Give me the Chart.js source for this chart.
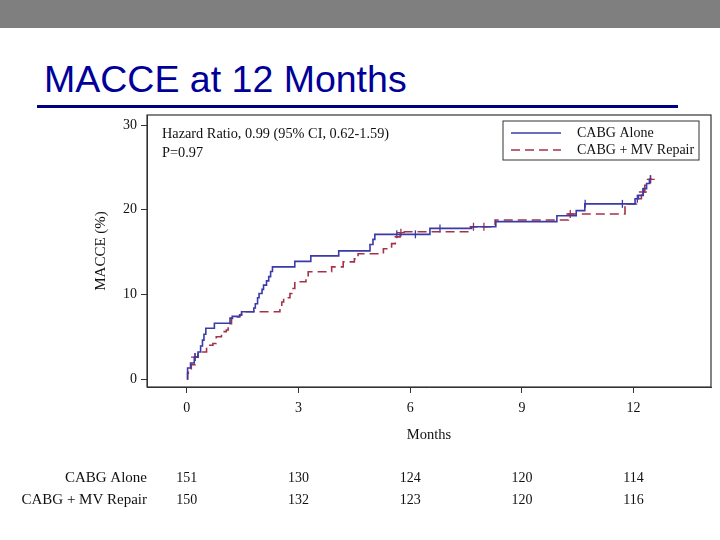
<!DOCTYPE html>
<html>
<head>
<meta charset="utf-8">
<script src="https://cdn.jsdelivr.net/npm/chart.js@4/dist/chart.umd.min.js"></script>
<style>
  body { margin: 0; width: 720px; height: 540px; background: #fff; position: relative; overflow: hidden; }
  #topBar { position: absolute; left: 0; top: 0; width: 720px; height: 28px; background: #7f7f7f; }
  #slideTitle { position: absolute; left: 44px; top: 58px; font-family: "Liberation Sans", Arial, sans-serif; font-size: 37.5px; color: #000099; white-space: nowrap; }
  #titleRule { position: absolute; left: 37px; top: 105px; width: 641px; height: 3px; background: #000080; }
  #chartBox { position: absolute; left: 0; top: 0; width: 720px; height: 540px; }
</style>
</head>
<body>
<div id="topBar"></div>
<div id="slideTitle">MACCE at 12 Months</div>
<div id="titleRule"></div>
<div id="chartBox"><canvas id="kmChart" width="720" height="540"></canvas></div>
<script>
// du lieu doc tu hinh (thang, %)
const groupNames = ["CABG Alone", "CABG + MV Repair"];
const aloneMonths = [0, 0.02, 0.1, 0.2, 0.3, 0.37, 0.42, 0.46, 0.51, 0.74, 1.16, 1.22, 1.42, 1.47, 1.8, 1.84, 1.9, 1.94, 2.02, 2.06, 2.14, 2.2, 2.25, 2.3, 2.9, 3.33, 4.08, 4.92, 5.0, 5.05, 6.53, 7.65, 8.3, 9.94, 10.46, 10.69, 12.04, 12.13, 12.26, 12.35, 12.43, 12.45];
const aloneValues = [0, 1.3, 1.9, 2.6, 3.2, 3.9, 4.6, 5.3, 6.0, 6.6, 7.2, 7.4, 7.6, 7.95, 8.4, 8.9, 9.6, 10.1, 10.6, 11.1, 11.6, 12.1, 12.7, 13.25, 13.9, 14.55, 15.15, 15.9, 16.5, 17.1, 17.8, 18.0, 18.6, 19.3, 19.9, 20.7, 21.3, 21.7, 22.5, 23.1, 23.6, 23.6];
const repairMonths = [0, 0.02, 0.04, 0.12, 0.22, 0.3, 0.53, 0.7, 0.79, 0.93, 1.06, 1.11, 1.2, 1.3, 1.42, 1.47, 2.5, 2.55, 2.6, 2.77, 2.82, 2.9, 3.2, 3.26, 3.89, 4.2, 4.5, 4.6, 5.28, 5.5, 5.6, 5.73, 5.8, 7.63, 8.28, 10.25, 11.77, 12.08, 12.21, 12.3, 12.43, 12.5];
const repairValues = [0, 0.7, 1.1, 1.7, 2.6, 3.2, 4.0, 4.2, 5.0, 5.6, 5.8, 6.55, 7.15, 7.35, 7.55, 7.95, 8.5, 9.1, 9.6, 10.1, 10.7, 11.5, 12.1, 12.67, 13.25, 13.85, 14.2, 14.8, 15.4, 16.0, 16.8, 17.3, 17.4, 18.0, 18.8, 19.5, 20.7, 21.3, 22.1, 22.9, 23.6, 23.6];
// diem kiem duyet (+)
const aloneCensorMonths = [0.22, 5.64, 6.14, 6.8, 10.7, 11.7, 12.1, 12.45];
const aloneCensorValues = [2.6, 17.1, 17.1, 17.8, 20.7, 20.7, 21.3, 23.6];
const repairCensorMonths = [0.22, 5.75, 7.7, 7.98, 10.3, 12.25, 12.46];
const repairCensorValues = [2.6, 17.3, 18.0, 18.0, 19.5, 22.1, 23.6];
const xTickValues = [0, 3, 6, 9, 12];
const yTickValues = [0, 10, 20, 30];
const atRiskAlone = [151, 130, 124, 120, 114];
const atRiskRepair = [150, 132, 123, 120, 116];
const hazardText = "Hazard Ratio, 0.99 (95% CI, 0.62-1.59)";
const pText = "P=0.97";

const blueColor = "#3a3aa8";
const redColor = "#a33348";
const serif = "'Liberation Serif', 'DejaVu Serif', serif";

const toPoints = (xs, ys) => xs.map((x, i) => ({ x: x, y: ys[i] }));

// ve khung, chu thich, bang so nguoi co nguy co
const extrasPlugin = {
    id: 'extras',
    afterDraw(chart) {
        const ctx = chart.ctx;
        const area = chart.chartArea;
        const xScale = chart.scales.x;
        ctx.save();
        ctx.strokeStyle = "#333";
        ctx.lineWidth = 1.2;
        ctx.strokeRect(area.left, area.top, area.right - area.left, area.bottom - area.top);

        // chu thich HR
        ctx.fillStyle = "#111";
        ctx.font = "14.3px " + serif;
        ctx.textAlign = "left";
        ctx.textBaseline = "alphabetic";
        ctx.fillText(hazardText, 162, 138);
        ctx.fillText(pText, 162, 157);

        // legend
        const lx = 503, ly = 121, lw = 196, lh = 39;
        ctx.lineWidth = 1;
        ctx.strokeStyle = "#333";
        ctx.strokeRect(lx, ly, lw, lh);
        const ds = chart.data.datasets;
        [0, 1].forEach(i => {
            const yy = ly + 12 + i * 17;
            ctx.beginPath();
            ctx.strokeStyle = ds[i].borderColor;
            ctx.lineWidth = 1.3;
            ctx.setLineDash(ds[i].borderDash || []);
            ctx.moveTo(lx + 8, yy);
            ctx.lineTo(lx + 58, yy);
            ctx.stroke();
            ctx.setLineDash([]);
            ctx.fillStyle = "#111";
            ctx.font = "14px " + serif;
            ctx.textBaseline = "middle";
            ctx.fillText(ds[i].label, lx + 74, yy);
        });

        // bang so luong
        ctx.font = "15px " + serif;
        ctx.fillStyle = "#111";
        ctx.textBaseline = "middle";
        ctx.textAlign = "right";
        ctx.fillText(groupNames[0], 147, 478);
        ctx.fillText(groupNames[1], 147, 500);
        ctx.textAlign = "center";
        ctx.font = "14px " + serif;
        xTickValues.forEach((m, i) => {
            const px = xScale.getPixelForValue(m);
            ctx.fillText(atRiskAlone[i], px, 478);
            ctx.fillText(atRiskRepair[i], px, 500);
        });
        ctx.restore();
    }
};

const ctx1 = document.getElementById('kmChart').getContext('2d');
const kmChart = new Chart(ctx1, {
    type: 'line',
    data: {
        datasets: [
            {
                label: groupNames[0],
                data: toPoints(aloneMonths, aloneValues),
                borderColor: blueColor,
                borderWidth: 1.6,
                stepped: true,
                pointRadius: 0,
                fill: false
            },
            {
                label: groupNames[1],
                data: toPoints(repairMonths, repairValues),
                borderColor: redColor,
                borderWidth: 1.6,
                borderDash: [9, 5],
                stepped: true,
                pointRadius: 0,
                fill: false
            },
            {
                type: 'scatter',
                label: 'censor1',
                data: toPoints(aloneCensorMonths, aloneCensorValues),
                pointStyle: 'line',
                rotation: 90,
                pointRadius: 4,
                borderColor: blueColor,
                borderWidth: 1.3
            },
            {
                type: 'scatter',
                label: 'censor2',
                data: toPoints(repairCensorMonths, repairCensorValues),
                pointStyle: 'cross',
                pointRadius: 4,
                borderColor: redColor,
                borderWidth: 1.3
            }
        ]
    },
    options: {
        responsive: false,
        animation: false,
        devicePixelRatio: 1,
        layout: { padding: { left: 90, top: 115, right: 9, bottom: 93 } },
        plugins: { legend: { display: false }, tooltip: { enabled: false } },
        scales: {
            x: {
                type: 'linear',
                min: -1.07,
                max: 14.08,
                afterBuildTicks: s => { s.ticks = xTickValues.map(v => ({ value: v })); },
                afterFit: s => { s.height = 60; },
                grid: { display: true, drawOnChartArea: false, drawTicks: true, tickLength: 6, color: "#333" },
                border: { display: true, color: "#333" },
                ticks: { color: "#111", font: { family: serif, size: 14 }, padding: 7, maxRotation: 0 },
                title: { display: true, text: 'Months', color: "#111", font: { family: serif, size: 14.5 }, padding: { top: 0, bottom: 3 } }
            },
            y: {
                type: 'linear',
                min: -0.94,
                max: 31.2,
                afterBuildTicks: s => { s.ticks = yTickValues.map(v => ({ value: v })); },
                afterFit: s => { s.width = 57; },
                grid: { display: true, drawOnChartArea: false, drawTicks: true, tickLength: 6, color: "#333" },
                border: { display: true, color: "#333" },
                ticks: { color: "#111", font: { family: serif, size: 14 }, padding: 4 },
                title: { display: true, text: 'MACCE (%)', color: "#111", font: { family: serif, size: 15 }, padding: { top: 2, bottom: 0 } }
            }
        }
    },
    plugins: [extrasPlugin]
});
</script>
</body>
</html>
